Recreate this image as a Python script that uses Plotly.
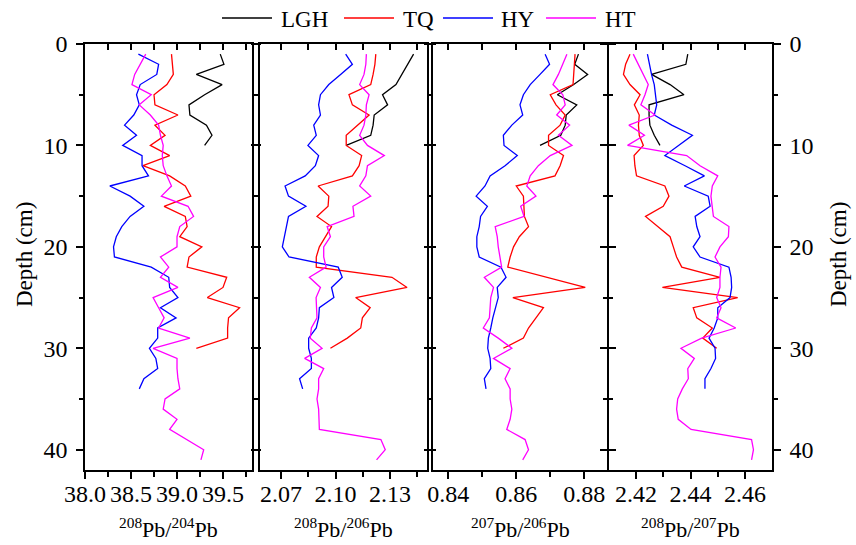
import plotly.graph_objects as go

# ---------------- data ----------------
sites = ["LGH", "TQ", "HY", "HT"]
site_colors = ["#000000", "#ff0000", "#0000ff", "#ff00ff"]

depth_lgh = list(range(1, 11))
depth_tq = list(range(1, 31))
depth_hy = list(range(1, 35))
depth_ht = list(range(1, 42))

# 208Pb/204Pb
pb84_lgh = [39.47, 39.51, 39.21, 39.49, 39.30, 39.13, 39.14, 39.32, 39.38, 39.30]
pb84_tq = [38.94, 38.95, 38.96, 38.89, 38.75, 38.76, 39.01, 38.76, 38.87, 38.71,
           38.92, 38.63, 38.92, 39.09, 39.15, 38.86, 39.09, 39.11, 39.03, 39.27,
           39.13, 39.11, 39.54, 39.50, 39.33, 39.68, 39.56, 39.55, 39.55, 39.21]
pb84_hy = [38.58, 38.80, 38.78, 38.60, 38.56, 38.59, 38.53, 38.43, 38.56, 38.41,
           38.62, 38.62, 38.69, 38.27, 38.49, 38.64, 38.49, 38.40, 38.34, 38.31,
           38.32, 38.72, 38.91, 38.92, 39.01, 38.82, 38.99, 38.79, 38.79, 38.70,
           38.77, 38.79, 38.64, 38.59]
pb84_ht = [38.66, 38.60, 38.54, 38.51, 38.72, 38.59, 38.71, 38.80, 38.82, 38.85,
           38.84, 38.85, 38.89, 38.94, 38.83, 39.12, 39.18, 39.03, 39.00, 39.00,
           38.82, 38.91, 38.82, 39.01, 38.74, 38.80, 38.86, 38.80, 39.14, 38.74,
           39.00, 39.00, 39.01, 39.03, 38.87, 38.85, 39.00, 38.92, 39.11, 39.29,
           39.26]

# 208Pb/206Pb
pb86_lgh = [2.1430, 2.1398, 2.1365, 2.1333, 2.1259, 2.1287, 2.1213, 2.1207, 2.1194, 2.1059]
pb86_tq = [2.1222, 2.1217, 2.1207, 2.1194, 2.1074, 2.1093, 2.1185, 2.1120, 2.1059, 2.1059,
           2.1144, 2.1130, 2.1093, 2.0904, 2.0963, 2.0959, 2.0898, 2.0978, 2.0944, 2.0911,
           2.0894, 2.0894, 2.1311, 2.1394, 2.1111, 2.1191, 2.1148, 2.1139, 2.1065, 2.0972]
pb86_hy = [2.1056, 2.1093, 2.1028, 2.0963, 2.0917, 2.0907, 2.0917, 2.0880, 2.0894, 2.0848,
           2.0907, 2.0889, 2.0833, 2.0722, 2.0741, 2.0837, 2.0741, 2.0731, 2.0719, 2.0707,
           2.0744, 2.1015, 2.1037, 2.0978, 2.0991, 2.0911, 2.0907, 2.0894, 2.0852, 2.0852,
           2.0867, 2.0867, 2.0802, 2.0819]
pb86_ht = [2.1170, 2.1167, 2.1157, 2.1133, 2.1185, 2.1170, 2.1167, 2.1157, 2.1133, 2.1176,
           2.1269, 2.1176, 2.1167, 2.1133, 2.1194, 2.1096, 2.1102, 2.0954, 2.0972, 2.0935,
           2.0935, 2.0948, 2.0856, 2.0917, 2.0893, 2.0894, 2.0898, 2.0867, 2.0861, 2.0926,
           2.0830, 2.0935, 2.0907, 2.0907, 2.0898, 2.0907, 2.0911, 2.0911, 2.1250, 2.1274,
           2.1226]

# 207Pb/206Pb
pb76_lgh = [0.8783, 0.8772, 0.8810, 0.8769, 0.8721, 0.8778, 0.8747, 0.8744, 0.8731, 0.8670]
pb76_tq = [0.8773, 0.8771, 0.8769, 0.8767, 0.8700, 0.8717, 0.8744, 0.8729, 0.8695, 0.8695,
           0.8739, 0.8729, 0.8714, 0.8600, 0.8621, 0.8623, 0.8624, 0.8636, 0.8609, 0.8592,
           0.8582, 0.8575, 0.8690, 0.8803, 0.8590, 0.8680, 0.8658, 0.8636, 0.8621, 0.8562]
pb76_hy = [0.8685, 0.8698, 0.8670, 0.8641, 0.8621, 0.8611, 0.8619, 0.8587, 0.8562, 0.8564,
           0.8603, 0.8567, 0.8523, 0.8508, 0.8482, 0.8515, 0.8495, 0.8491, 0.8484, 0.8484,
           0.8491, 0.8555, 0.8570, 0.8544, 0.8547, 0.8538, 0.8531, 0.8525, 0.8518, 0.8516,
           0.8523, 0.8525, 0.8506, 0.8511]
pb76_ht = [0.8749, 0.8737, 0.8724, 0.8708, 0.8737, 0.8744, 0.8719, 0.8757, 0.8724, 0.8764,
           0.8700, 0.8665, 0.8641, 0.8631, 0.8658, 0.8613, 0.8623, 0.8538, 0.8544, 0.8547,
           0.8552, 0.8557, 0.8506, 0.8533, 0.8525, 0.8523, 0.8521, 0.8503, 0.8547, 0.8587,
           0.8533, 0.8582, 0.8567, 0.8582, 0.8582, 0.8587, 0.8582, 0.8572, 0.8626, 0.8636,
           0.8619]

# 208Pb/207Pb
pb87_lgh = [2.4390, 2.4383, 2.4257, 2.4325, 2.4376, 2.4248, 2.4248, 2.4251, 2.4267, 2.4288]
pb87_tq = [2.4178, 2.4162, 2.4154, 2.4178, 2.4215, 2.4194, 2.4212, 2.4209, 2.4212, 2.4227,
           2.4193, 2.4196, 2.4202, 2.4306, 2.4321, 2.4300, 2.4235, 2.4282, 2.4325, 2.4337,
           2.4349, 2.4368, 2.4508, 2.4297, 2.4573, 2.4410, 2.4423, 2.4480, 2.4445, 2.4496]
pb87_hy = [2.4242, 2.4249, 2.4257, 2.4267, 2.4272, 2.4276, 2.4267, 2.4331, 2.4407, 2.4355,
           2.4306, 2.4380, 2.4451, 2.4377, 2.4465, 2.4472, 2.4417, 2.4423, 2.4435, 2.4410,
           2.4435, 2.4541, 2.4549, 2.4551, 2.4545, 2.4500, 2.4500, 2.4487, 2.4468, 2.4490,
           2.4492, 2.4475, 2.4453, 2.4453]
pb87_ht = [2.4190, 2.4209, 2.4227, 2.4245, 2.4233, 2.4218, 2.4270, 2.4174, 2.4231, 2.4169,
           2.4386, 2.4435, 2.4500, 2.4480, 2.4475, 2.4480, 2.4484, 2.4541, 2.4539, 2.4508,
           2.4490, 2.4512, 2.4508, 2.4508, 2.4496, 2.4512, 2.4496, 2.4566, 2.4441, 2.4365,
           2.4414, 2.4390, 2.4392, 2.4370, 2.4353, 2.4349, 2.4355, 2.4402, 2.4624, 2.4631,
           2.4624]

panel_titles = ["<sup>208</sup>Pb/<sup>204</sup>Pb", "<sup>208</sup>Pb/<sup>206</sup>Pb",
                "<sup>207</sup>Pb/<sup>206</sup>Pb", "<sup>208</sup>Pb/<sup>207</sup>Pb"]
x_major = [[38.0, 38.5, 39.0, 39.5], [2.07, 2.10, 2.13], [0.84, 0.86, 0.88], [2.42, 2.44, 2.46]]
x_major_text = [["38.0", "38.5", "39.0", "39.5"], ["2.07", "2.10", "2.13"],
                ["0.84", "0.86", "0.88"], ["2.42", "2.44", "2.46"]]
x_minor = [[38.25, 38.75, 39.25, 39.75], [2.085, 2.115, 2.145], [0.85, 0.87], [2.43, 2.45]]
y_major = [0, 10, 20, 30, 40]
y_minor = [5, 15, 25, 35]

depths = [depth_lgh, depth_tq, depth_hy, depth_ht]
panels = [
    [pb84_lgh, pb84_tq, pb84_hy, pb84_ht],
    [pb86_lgh, pb86_tq, pb86_hy, pb86_ht],
    [pb76_lgh, pb76_tq, pb76_hy, pb76_ht],
    [pb87_lgh, pb87_tq, pb87_hy, pb87_ht],
]

# ---------------- layout geometry ----------------
W, H = 856, 545
L, R, T, B = 85, 772, 44, 470
PW, PH = R - L, B - T
panel_px = [(85, 252), (260, 427), (433, 607), (609, 772)]
x_ranges = [[38.0, 39.815], [2.0584, 2.1504], [0.8355, 0.8867], [2.4101, 2.4699]]
y_range = [42, 0]

FONT = "Liberation Serif"
LW = 1.5


def fx(p):
    return (p - L) / PW


def fy(p):
    return (B - p) / PH


fig = go.Figure()

for k in range(4):
    xa = "x" if k == 0 else f"x{k + 1}"
    ya = "y" if k == 0 else f"y{k + 1}"
    for s in range(4):
        fig.add_trace(go.Scatter(
            x=panels[k][s], y=depths[s], mode="lines", name=sites[s],
            line=dict(color=site_colors[s], width=1.3),
            xaxis=xa, yaxis=ya, showlegend=False))
    # placeholder trace so the top (mirror) axis gets drawn
    fig.add_trace(go.Scatter(x=[None], y=[None], xaxis=f"x{k + 5}", yaxis=ya,
                             showlegend=False, hoverinfo="skip"))

layout = dict(
    width=W, height=H,
    margin=dict(l=L, r=W - R, t=T, b=H - B, pad=0),
    plot_bgcolor="white", paper_bgcolor="white",
    font=dict(family=FONT, size=24, color="black"),
    showlegend=False,
)

for k in range(4):
    dom = [fx(panel_px[k][0]), fx(panel_px[k][1])]
    xname = "xaxis" if k == 0 else f"xaxis{k + 1}"
    yname = "yaxis" if k == 0 else f"yaxis{k + 1}"
    ya = "y" if k == 0 else f"y{k + 1}"
    xa = "x" if k == 0 else f"x{k + 1}"
    layout[xname] = dict(
        domain=dom, range=x_ranges[k], anchor=ya, showgrid=False, zeroline=False,
        showline=True, linecolor="black", linewidth=LW,
        ticks="outside", ticklen=7, tickwidth=1.5, tickcolor="black",
        tickmode="array", tickvals=x_major[k], ticktext=x_major_text[k],
        tickfont=dict(family=FONT, size=24), ticklabelstandoff=-6,
        minor=dict(tickvals=x_minor[k], ticks="outside", ticklen=5,
                   tickwidth=1.5, tickcolor="black", showgrid=False),
    )
    layout[f"xaxis{k + 5}"] = dict(
        overlaying=xa, side="top", anchor=ya, range=x_ranges[k],
        showgrid=False, zeroline=False, showline=True, linecolor="black", linewidth=LW,
        ticks="inside", ticklen=6, tickwidth=1.5, tickcolor="black",
        tickmode="array", tickvals=x_major[k] + x_minor[k], showticklabels=False,
    )
    layout[yname] = dict(
        domain=[0, 1], range=y_range, anchor=xa, showgrid=False, zeroline=False,
        showline=True, linecolor="black", linewidth=LW, mirror="ticks",
        ticks="outside", ticklen=7, tickwidth=1.5, tickcolor="black",
        tickmode="array", tickvals=y_major, ticktext=[str(v) for v in y_major],
        showticklabels=(k in (0, 3)), side=("right" if k == 3 else "left"),
        tickfont=dict(family=FONT, size=24), ticklabelstandoff=4,
        minor=dict(tickvals=y_minor, ticks="outside", ticklen=4,
                   tickwidth=1.5, tickcolor="black", showgrid=False),
    )

fig.update_layout(**layout)

# ---------------- titles ----------------
annotations = []
for k in range(4):
    cx = fx((panel_px[k][0] + panel_px[k][1]) / 2)
    annotations.append(dict(
        text=panel_titles[k], x=cx, y=fy(528), xref="paper", yref="paper",
        xanchor="center", yanchor="middle", showarrow=False,
        font=dict(family=FONT, size=22, color="black")))
for xp in (24, 838):
    annotations.append(dict(
        text="Depth (cm)", x=fx(xp), y=fy(255), xref="paper", yref="paper",
        xanchor="center", yanchor="middle", textangle=-90, showarrow=False,
        font=dict(family=FONT, size=23, color="black")))

# ---------------- legend (drawn across the top) ----------------
legend_line_x = [222, 344, 443, 546]
legend_text_x = [279, 401, 499, 603]
shapes = []
for s in range(4):
    shapes.append(dict(type="line", xref="paper", yref="paper",
                       x0=fx(legend_line_x[s]), x1=fx(legend_line_x[s] + 50),
                       y0=fy(18), y1=fy(18),
                       line=dict(color=site_colors[s], width=1.6)))
    annotations.append(dict(
        text=sites[s], x=fx(legend_text_x[s]), y=fy(19.5), xref="paper", yref="paper",
        xanchor="left", yanchor="middle", showarrow=False,
        font=dict(family=FONT, size=23, color="black")))

fig.update_layout(annotations=annotations, shapes=shapes)

fig.write_html("out.html")
